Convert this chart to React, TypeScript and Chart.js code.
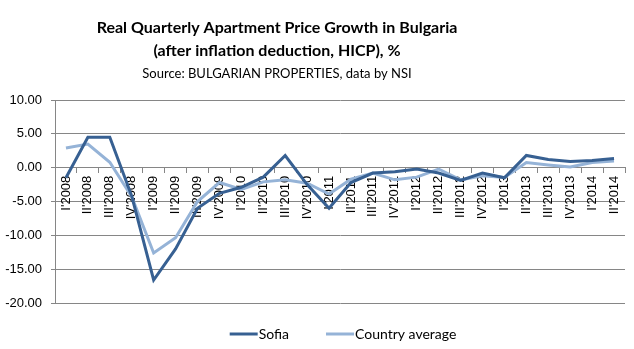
import { useEffect, useRef } from 'react';
import { Chart, registerables } from 'chart.js';

Chart.register(...registerables);

const categories = [
  "I'2008", "II'2008", "III'2008", "IV'2008",
  "I'2009", "II'2009", "III'2009", "IV'2009",
  "I'2010", "II'2010", "III'2010", "IV'2010",
  "I'2011", "II'2011", "III'2011", "IV'2011",
  "I'2012", "II'2012", "III'2012", "IV'2012",
  "I'2013", "II'2013", "III'2013", "IV'2013",
  "I'2014", "II'2014",
];

const sofia = [
  -1.5, 4.5, 4.5, -4.2,
  -16.6, -12.0, -6.0, -3.8,
  -2.9, -1.4, 1.8, -2.5,
  -6.0, -2.2, -0.8, -0.6,
  -0.2, -0.8, -1.9, -0.8,
  -1.5, 1.8, 1.2, 0.9,
  1.05, 1.35,
];

const countryAverage = [
  2.9, 3.5, 0.8, -4.3,
  -12.6, -10.35, -5.0, -2.2,
  -3.2, -2.1, -1.8, -2.3,
  -3.9, -1.7, -0.8, -1.8,
  -1.4, -0.2, -1.8, -1.2,
  -1.45, 0.75, 0.4, 0.1,
  0.75, 1.0,
];

const seriesNames = ['Sofia', 'Country average'];
const yMin = -20;
const yMax = 10;
const yStep = 5;

const titleLines = [
  'Real Quarterly Apartment Price Growth in Bulgaria',
  '(after inflation deduction, HICP), %',
];
const subtitleText = 'Source: BULGARIAN PROPERTIES, data by NSI';

const SOFIA_COLOR = '#376092';
const COUNTRY_COLOR = '#95B3D7';
const GRID_COLOR = '#868686';
const TEXT_FONT = 'Lato, "Open Sans", sans-serif';
const AXIS_FONT = '"Liberation Sans", Arial, sans-serif';

const titlePlugin = {
  id: 'customTitle',
  afterDraw(chart: any) {
    const ctx = chart.ctx;
    ctx.save();
    ctx.fillStyle = '#000';
    ctx.textAlign = 'center';
    ctx.textBaseline = 'middle';
    const cx = 277;
    ctx.font = `bold 16px ${TEXT_FONT}`;
    ctx.fillText(titleLines[0], cx, 28);
    ctx.fillText(titleLines[1], cx, 51);
    ctx.font = `13px ${TEXT_FONT}`;
    ctx.fillText(subtitleText, cx, 74);
    ctx.restore();
  },
};

const legendPlugin = {
  id: 'customLegend',
  afterDraw(chart: any) {
    const ctx = chart.ctx;
    const sets = chart.data.datasets;
    const swatch = 28;
    const gapText = 1;
    const gapItem = 37;
    const y = 334;
    ctx.save();
    ctx.font = `14px ${TEXT_FONT}`;
    const widths = sets.map((d: any) => swatch + gapText + ctx.measureText(d.label).width);
    const total = widths.reduce((a: number, b: number) => a + b, 0) + gapItem * (sets.length - 1);
    const area = chart.chartArea;
    let x = (area.left + area.right) / 2 + 3 - total / 2;
    sets.forEach((d: any, i: number) => {
      ctx.strokeStyle = d.borderColor;
      ctx.lineWidth = 3;
      ctx.beginPath();
      ctx.moveTo(x, y);
      ctx.lineTo(x + swatch, y);
      ctx.stroke();
      ctx.fillStyle = '#000';
      ctx.textAlign = 'left';
      ctx.textBaseline = 'middle';
      ctx.fillText(d.label, x + swatch + gapText, y);
      x += widths[i] + gapItem;
    });
    ctx.restore();
  },
};

export default function App() {
  const canvasRef = useRef<HTMLCanvasElement | null>(null);

  useEffect(() => {
    if (!canvasRef.current) return;
    const chart = new Chart(canvasRef.current, {
      type: 'line',
      data: {
        labels: categories,
        datasets: [
          {
            label: seriesNames[0],
            data: sofia,
            borderColor: SOFIA_COLOR,
            backgroundColor: SOFIA_COLOR,
            borderWidth: 3,
            pointRadius: 0,
            tension: 0,
            fill: false,
          },
          {
            label: seriesNames[1],
            data: countryAverage,
            borderColor: COUNTRY_COLOR,
            backgroundColor: COUNTRY_COLOR,
            borderWidth: 3,
            pointRadius: 0,
            tension: 0,
            fill: false,
          },
        ],
      },
      options: {
        animation: false,
        responsive: true,
        maintainAspectRatio: false,
        layout: { padding: { top: 100, right: 9, bottom: 46, left: 0 } },
        plugins: {
          legend: { display: false },
          title: { display: false },
          tooltip: { enabled: false },
        },
        scales: {
          x: {
            type: 'category',
            position: { y: 0 } as any,
            offset: true,
            grid: {
              display: true,
              drawOnChartArea: false,
              drawTicks: true,
              tickLength: 5,
              color: GRID_COLOR,
              offset: true,
            },
            border: { display: true, color: GRID_COLOR, width: 1 },
            ticks: {
              autoSkip: false,
              minRotation: 90,
              maxRotation: 90,
              padding: 3,
              color: '#000',
              font: { family: AXIS_FONT, size: 13 },
            },
          },
          y: {
            min: yMin,
            max: yMax,
            grid: {
              color: GRID_COLOR,
              tickLength: 4,
              drawTicks: true,
            },
            border: { display: true, color: GRID_COLOR, width: 1 },
            ticks: {
              stepSize: yStep,
              padding: 9,
              color: '#000',
              font: { family: AXIS_FONT, size: 13 },
              callback: (v: any) => Number(v).toFixed(2),
            },
            afterFit: (scale: any) => {
              scale.width = 55;
            },
          },
        },
      },
      plugins: [titlePlugin, legendPlugin],
    });
    return () => chart.destroy();
  }, []);

  return (
    <div style={{ position: 'absolute', left: 0, top: 0, width: 634, height: 349, background: '#fff' }}>
      <canvas ref={canvasRef} />
    </div>
  );
}
